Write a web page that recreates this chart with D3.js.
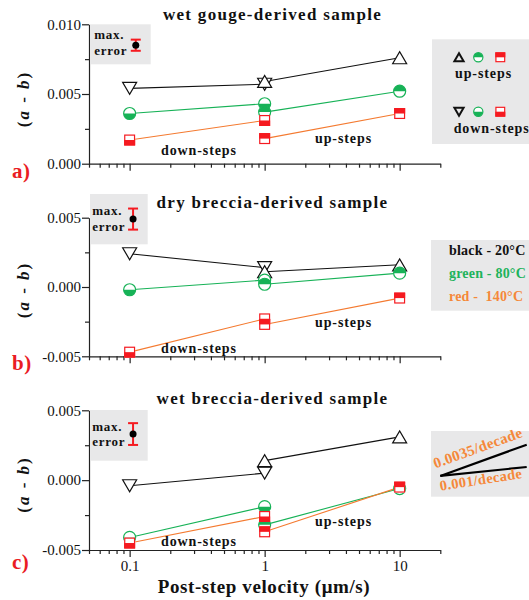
<!DOCTYPE html>
<html><head><meta charset="utf-8">
<script src="https://cdn.jsdelivr.net/npm/d3@7"></script>
<style>
body{margin:0;background:#fff;}
svg{display:block;font-family:"Liberation Serif","Times New Roman",serif;}
</style></head><body><svg id="chart" width="529" height="600"></svg>
<script>
// ---------------- data ----------------
const downX = [0.1, 1];   // down-step post-step velocities
const upX = [1, 10];      // up-step post-step velocities

// a) wet gouge-derived sample
const gougeBlackUp = [0.0059, 0.0076];
const gougeBlackDown = [0.0054, 0.0057];
const gougeGreenUp = [0.0037, 0.0052];
const gougeGreenDown = [0.0036, 0.0043];
const gougeRedUp = [0.0018, 0.0036];
const gougeRedDown = [0.0017, 0.0031];

// b) dry breccia-derived sample
const dryBlackUp = [0.0011, 0.0016];
const dryBlackDown = [0.0024, 0.0014];
const dryGreenUp = [0.0002, 0.0010];
const dryGreenDown = [-0.0002, 0.0005];
const dryRedUp = [-0.0027, -0.0008];
const dryRedDown = [-0.0047, -0.0023];

// c) wet breccia-derived sample
const wetBlackUp = [0.0014, 0.0031];
const wetBlackDown = [-0.0004, 0.0005];
const wetGreenUp = [-0.0032, -0.0006];
const wetGreenDown = [-0.0041, -0.0019];
const wetRedUp = [-0.0037, -0.0005];
const wetRedDown = [-0.0045, -0.0026];

// max. error bars
const errCenter = [0.0085, 0.0049, 0.0033];
const errHalf = [0.0004, 0.00076, 0.00078];
const errX = [0.111, 0.106, 0.106];

// ticks
const xMajorTicks = [0.1, 1, 10];
const xTickLabels = ["0.1", "1", "10"];
const xMinorTicks = [0.05,0.06,0.07,0.08,0.09,0.2,0.3,0.4,0.5,0.6,0.7,0.8,0.9,2,3,4,5,6,7,8,9,20];
const yTicksGouge = [0, 0.005, 0.010];
const yTickLabelsGouge = ["0.000", "0.005", "0.010"];
const yMinorGouge = [0.0025, 0.0075];
const yTicksBreccia = [-0.005, 0, 0.005];
const yTickLabelsBreccia = ["-0.005", "0.000", "0.005"];
const yMinorBreccia = [-0.0025, 0.0025];

const titles = ["wet gouge-derived sample", "dry breccia-derived sample", "wet breccia-derived sample"];
const panelLetters = ["a)", "b)", "c)"];
const tempLabels = ["black - 20°C", "green - 80°C", "red -  140°C"];
const guideSlopes = [0.0035, 0.001];
const guideLabels = ["0.0035/decade", "0.001/decade"];

// ---------------- styles ----------------
const C = {
  black: "#111", green: "#17b257", red: "#f51a20", orange: "#f47a30",
  greenText: "#1db35b", orangeText: "#f5883a", letter: "#ea1c24",
  box: "#e8e8e9", axis: "#222"
};

const svg = d3.select("#chart");
const x = d3.scaleLog().domain([0.05, 20]).range([89, 440.3]);

const panels = [
  { yDomain: [0, 0.010], yRange: [163.7, 24.3], ticks: yTicksGouge, labels: yTickLabelsGouge, minor: yMinorGouge,
    series: [[gougeBlackUp, gougeBlackDown], [gougeGreenUp, gougeGreenDown], [gougeRedUp, gougeRedDown]],
    titleY: 19.5, letterY: 178, ylabY: 99, errBox: [24.3, 64.3, 150.7], textY: [39.3, 55], textX: 94.3,
    downY: 155, upY: 143.3 },
  { yDomain: [-0.005, 0.005], yRange: [356.3, 217.7], ticks: yTicksBreccia, labels: yTickLabelsBreccia, minor: yMinorBreccia,
    series: [[dryBlackUp, dryBlackDown], [dryGreenUp, dryGreenDown], [dryRedUp, dryRedDown]],
    titleY: 208.3, letterY: 370, ylabY: 290, errBox: [194, 244.3, 147.7], textY: [215.3, 231], textX: 92.3,
    downY: 353, upY: 326.7 },
  { yDomain: [-0.005, 0.005], yRange: [550, 410.3], ticks: yTicksBreccia, labels: yTickLabelsBreccia, minor: yMinorBreccia,
    series: [[wetBlackUp, wetBlackDown], [wetGreenUp, wetGreenDown], [wetRedUp, wetRedDown]],
    titleY: 404, letterY: 569, ylabY: 484.5, errBox: [410, 460.7, 147.7], textY: [431.3, 446.3], textX: 92.3,
    downY: 545.7, upY: 525.7 }
];

const lineColors = [C.black, C.green, C.orange];
const markColors = [C.black, C.green, C.red];
const kinds = ["tri", "circle", "square"];

function drawMarker(g, kind, color, cx, cy, dir, big) {
  const m = g.append("g").attr("transform", `translate(${cx},${cy})`);
  if (kind === "tri") {
    const w = big ? 7 : 4.6, h = big ? 6 : 4;
    const p = dir === "up" ? `M${-w},${h}L${w},${h}L0,${-h}Z` : `M${-w},${-h}L${w},${-h}L0,${h}Z`;
    m.append("path").attr("d", p).attr("fill", big ? "#fff" : "none")
      .attr("stroke", color).attr("stroke-width", big ? 1.2 : 2).attr("stroke-linejoin", "miter");
  } else if (kind === "circle") {
    const r = big ? 6 : 4.6;
    m.append("circle").attr("r", r).attr("fill", "#fff");
    const sweep = dir === "up" ? 1 : 0;
    m.append("path").attr("d", `M${-r},0A${r},${r} 0 0 ${sweep} ${r},0Z`).attr("fill", color);
    m.append("circle").attr("r", r).attr("fill", "none").attr("stroke", color).attr("stroke-width", 1.2);
  } else {
    const s = big ? 11 : 10;
    m.append("rect").attr("x", -s/2).attr("y", -s/2).attr("width", s).attr("height", s).attr("fill", "#fff");
    m.append("rect").attr("x", -s/2).attr("y", dir === "up" ? -s/2 : 0).attr("width", s).attr("height", s/2).attr("fill", color);
    m.append("rect").attr("x", -s/2 + 0.6).attr("y", -s/2 + 0.6).attr("width", s - 1.2).attr("height", s - 1.2)
      .attr("fill", "none").attr("stroke", color).attr("stroke-width", 1.2);
  }
}

function boldText(g, str, px, py, size, spacing, fill, anchor) {
  return g.append("text").attr("x", px).attr("y", py).attr("font-size", size).attr("font-weight", "bold")
    .attr("letter-spacing", spacing).attr("fill", fill || "#111").attr("text-anchor", anchor || "start")
    .style("white-space", "pre").text(str);
}

panels.forEach((P, pi) => {
  const y = d3.scaleLinear().domain(P.yDomain).range(P.yRange);
  const g = svg.append("g");
  const bottom = P.yRange[0];

  // axes
  const yAx = g.append("g").attr("transform", "translate(89,0)")
    .call(d3.axisLeft(y).tickValues(P.ticks).tickFormat((d, i) => P.labels[i]).tickSize(7).tickPadding(1).tickSizeOuter(0));
  yAx.selectAll("text").attr("font-size", 15).attr("font-family", "Liberation Serif").attr("fill", "#111");
  const yMin = g.append("g").attr("transform", "translate(89,0)")
    .call(d3.axisLeft(y).tickValues(P.minor).tickFormat("").tickSize(4).tickSizeOuter(0));
  yMin.select(".domain").remove();

  const xAx = g.append("g").attr("transform", `translate(0,${bottom})`)
    .call(d3.axisBottom(x).tickValues(xMajorTicks).tickFormat((d, i) => pi === 2 ? xTickLabels[i] : "")
      .tickSize(7).tickPadding(3).tickSizeOuter(0));
  xAx.selectAll("text").attr("font-size", 15).attr("font-family", "Liberation Serif").attr("fill", "#111");
  const xMin = g.append("g").attr("transform", `translate(0,${bottom})`)
    .call(d3.axisBottom(x).tickValues(xMinorTicks).tickFormat("").tickSize(4).tickSizeOuter(0));
  xMin.select(".domain").remove();
  g.selectAll(".domain, .tick line").attr("stroke", C.axis).attr("stroke-width", 1.2);

  // lines
  const line = d3.line().x(d => x(d[0])).y(d => y(d[1]));
  P.series.forEach((s, si) => {
    [[upX, s[0]], [downX, s[1]]].forEach(([xs, vals]) => {
      g.append("path").attr("d", line(xs.map((v, i) => [v, vals[i]])))
        .attr("fill", "none").attr("stroke", lineColors[si]).attr("stroke-width", 1.1);
    });
  });
  // markers
  P.series.forEach((s, si) => {
    downX.forEach((v, i) => drawMarker(g, kinds[si], markColors[si], x(v), y(s[1][i]), "down", true));
    upX.forEach((v, i) => drawMarker(g, kinds[si], markColors[si], x(v), y(s[0][i]), "up", true));
  });

  // max error box
  const [bt, bb, br] = P.errBox;
  g.append("rect").attr("x", 90).attr("y", bt).attr("width", br - 90).attr("height", bb - bt).attr("fill", C.box);
  boldText(g, "max.", P.textX, P.textY[0], 13, 0.7);
  boldText(g, "error", P.textX, P.textY[1], 13, 0.7);
  const ex = x(errX[pi]);
  const e0 = y(errCenter[pi] - errHalf[pi]), e1 = y(errCenter[pi] + errHalf[pi]);
  g.append("line").attr("x1", ex).attr("x2", ex).attr("y1", e0).attr("y2", e1).attr("stroke", C.red).attr("stroke-width", 2);
  [e0, e1].forEach(v => g.append("line").attr("x1", ex - 5).attr("x2", ex + 5).attr("y1", v).attr("y2", v)
    .attr("stroke", C.red).attr("stroke-width", 2));
  g.append("circle").attr("cx", ex).attr("cy", y(errCenter[pi])).attr("r", 3.5).attr("fill", "#000");

  // annotations
  boldText(g, "down-steps", 161, P.downY, 14, 0.9);
  boldText(g, "up-steps", 315, P.upY, 14, 0.9);

  // title
  boldText(g, titles[pi], 272.5, P.titleY, 17, 1.3, "#111", "middle");
  // panel letter
  boldText(g, panelLetters[pi], 12, P.letterY, 21, 0.5, C.letter);
  // y label
  const yl = g.append("text").attr("transform", `translate(29,${P.ylabY}) rotate(-90)`)
    .attr("text-anchor", "middle").attr("font-size", 17).attr("font-weight", "bold").attr("letter-spacing", 2)
    .attr("fill", "#111").style("white-space", "pre");
  yl.append("tspan").text("(");
  yl.append("tspan").attr("font-style", "italic").text("a");
  yl.append("tspan").text(" - ");
  yl.append("tspan").attr("font-style", "italic").text("b");
  yl.append("tspan").text(")");

  // right-hand legends
  if (pi === 0) {
    g.append("rect").attr("x", 432).attr("y", 39.3).attr("width", 100).attr("height", 104.7).attr("fill", C.box);
    const lx = [459, 478.3, 500.3];
    kinds.forEach((k, ki) => {
      drawMarker(g, k, markColors[ki], lx[ki], 57.3, "up", false);
      drawMarker(g, k, markColors[ki], lx[ki], 111.7, "down", false);
    });
    boldText(g, "up-steps", 455, 78.3, 14, 0.9);
    boldText(g, "down-steps", 453.7, 132.7, 14, 0.9);
  } else if (pi === 1) {
    g.append("rect").attr("x", 431).attr("y", 240).attr("width", 100).attr("height", 70.7).attr("fill", C.box);
    const cols = ["#111", C.greenText, C.orangeText];
    const ly = [255, 278.3, 301];
    tempLabels.forEach((t, i) => boldText(g, t, 449, ly[i], 14, 0.2, cols[i]));
  } else {
    g.append("rect").attr("x", 431).attr("y", 431).attr("width", 100).attr("height", 65.7).attr("fill", C.box);
    const gx0 = x(20), gy0 = y(0.0003), dec = 0.64;
    guideSlopes.forEach((s, i) => {
      const gx1 = x(20 * Math.pow(10, dec)), gy1 = y(0.0003 + s * dec);
      g.append("line").attr("x1", gx0).attr("y1", gy0).attr("x2", gx1).attr("y2", gy1)
        .attr("stroke", "#000").attr("stroke-width", 2.2);
      const ang = Math.atan2(gy1 - gy0, gx1 - gx0) * 180 / Math.PI;
      const t = boldText(g, guideLabels[i], 0, 0, i === 0 ? 15 : 14.5, 0.3, C.orangeText);
      t.attr("transform", `translate(${gx0 - 2},${gy0}) rotate(${ang - (i === 0 ? 0 : 3)})`)
        .attr("dy", i === 0 ? -8 : 15);
    });
  }
});

// x axis title
boldText(svg, "Post-step velocity (μm/s)", 264, 593, 19, 0.6, "#111", "middle");
</script></body></html>
